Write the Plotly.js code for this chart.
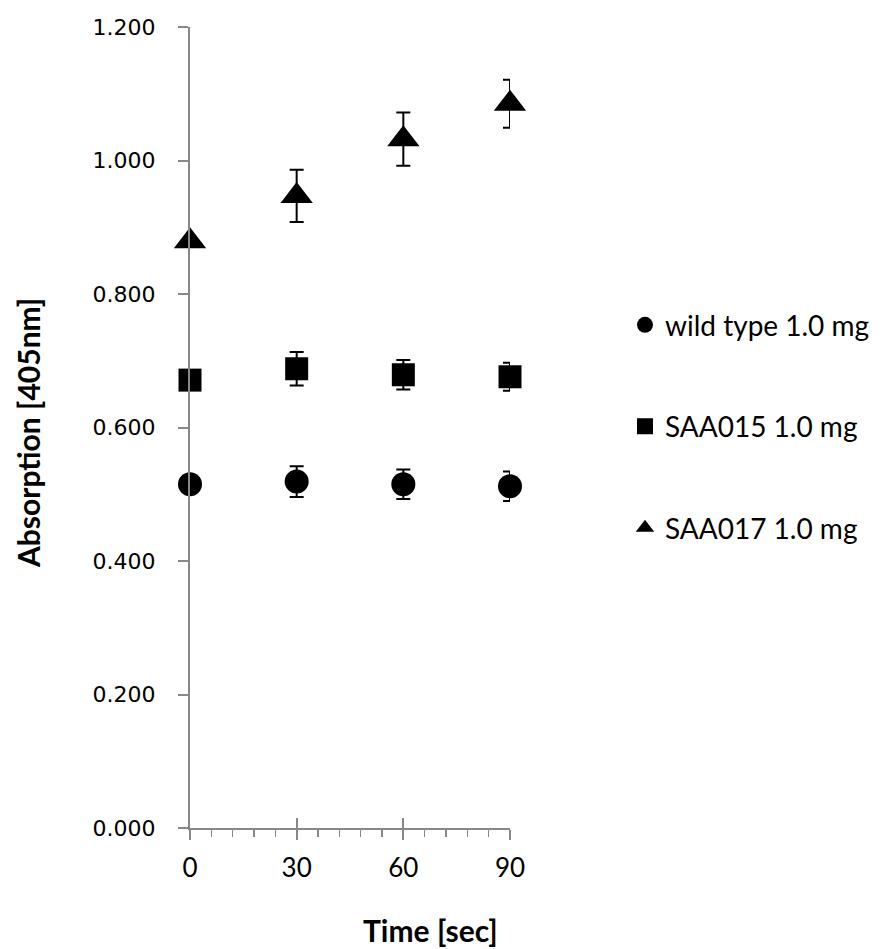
<!DOCTYPE html>
<html>
<head>
<meta charset="utf-8">
<script src="https://cdn.plot.ly/plotly-3.0.1.min.js"></script>
<style>html,body{margin:0;padding:0;background:#fff;}#chart{width:885px;height:949px;}</style>
</head>
<body>
<div id="chart"></div>
<script>
const time = [0, 30, 60, 90];
const seriesNames = ["wild type 1.0 mg", "SAA015 1.0 mg", "SAA017 1.0 mg"];
const wildType = [0.515, 0.519, 0.515, 0.512];
const wildTypeErr = [0, 0.023, 0.022, 0.022];
const saa015 = [0.671, 0.688, 0.679, 0.676];
const saa015Err = [0, 0.025, 0.022, 0.021];
const saa017 = [0.879, 0.947, 1.032, 1.085];
const saa017Err = [0, 0.039, 0.040, 0.036];
const symbols = ["circle", "square", "triangle-up"];
const sizes = [24, 23, 28];
const yTicks = [0, 0.2, 0.4, 0.6, 0.8, 1.0, 1.2];
const yTickText = ["0.000", "0.200", "0.400", "0.600", "0.800", "1.000", "1.200"];
const xTicks = [0, 30, 60, 90];

const ys = [wildType, saa015, saa017];
const errs = [wildTypeErr, saa015Err, saa017Err];
const traces = ys.map((y, i) => ({
  type: "scatter",
  mode: "markers",
  x: time,
  y: y,
  name: seriesNames[i],
  legendgroup: "g" + i,
  cliponaxis: false,
  marker: {symbol: symbols[i], size: sizes[i], color: "#000"},
  error_y: {type: "data", array: errs[i], visible: true, color: "#000", thickness: 2, width: 7}
}));
// invisible helper trace on the overlay axis so its inside ticks are drawn
traces.push({type: "scatter", mode: "markers", x: time, y: wildType, xaxis: "x2", yaxis: "y",
  marker: {opacity: 0, size: 1}, showlegend: false, hoverinfo: "skip"});

const layout = {
  width: 885, height: 949,
  margin: {l: 190, r: 375, t: 27, b: 121},
  paper_bgcolor: "#fff", plot_bgcolor: "#fff",
  showlegend: true,
  legend: {
    xref: "container", x: 0.7062, xanchor: "left", y: 0.659, yanchor: "top",
    traceorder: "grouped", tracegroupgap: 62,
    font: {family: "Lato, 'Open Sans', sans-serif", size: 28, color: "#000"},
    itemsizing: "trace"
  },
  xaxis: {
    range: [0, 90], tickvals: xTicks, ticktext: xTicks.map(String),
    showgrid: false, zeroline: false, showline: true, linecolor: "#888", linewidth: 2,
    ticks: "outside", ticklen: 10, tickwidth: 2, tickcolor: "#888",
    minor: {dtick: 6, ticks: "outside", ticklen: 7, tickwidth: 1.5, tickcolor: "#888"},
    tickfont: {family: "Lato, 'Open Sans', sans-serif", size: 26, color: "#000"},
    ticklabelstandoff: 6,
    fixedrange: true
  },
  xaxis2: {
    overlaying: "x", anchor: "y", side: "bottom", range: [0, 90], tickvals: xTicks,
    showticklabels: false, showgrid: false, zeroline: false, showline: false,
    ticks: "inside", ticklen: 10, tickwidth: 2, tickcolor: "#888", fixedrange: true
  },
  yaxis: {
    range: [0, 1.2], tickvals: yTicks, ticktext: yTickText,
    showgrid: false, zeroline: false, showline: true, linecolor: "#888", linewidth: 2,
    ticks: "outside", ticklen: 10, tickwidth: 2, tickcolor: "#888",
    tickfont: {family: "'DejaVu Sans', Verdana, sans-serif", size: 22, color: "#000"},
    ticklabelstandoff: 18,
    fixedrange: true
  },
  annotations: [
    {text: "<b>Time [sec]</b>", xref: "paper", yref: "paper", x: (430 - 190) / 320, y: (828 - 930) / 801,
     xanchor: "center", yanchor: "middle", showarrow: false,
     font: {family: "Lato, 'Open Sans', sans-serif", size: 30, color: "#000"}},
    {text: "<b>Absorption [405nm]</b>", xref: "paper", yref: "paper", x: (28 - 190) / 320, y: (828 - 433) / 801,
     xanchor: "center", yanchor: "middle", showarrow: false, textangle: -90,
     font: {family: "Lato, 'Open Sans', sans-serif", size: 30, color: "#000"}}
  ]
};

Plotly.newPlot("chart", traces, layout, {displayModeBar: false, staticPlot: true});
</script>
</body>
</html>
